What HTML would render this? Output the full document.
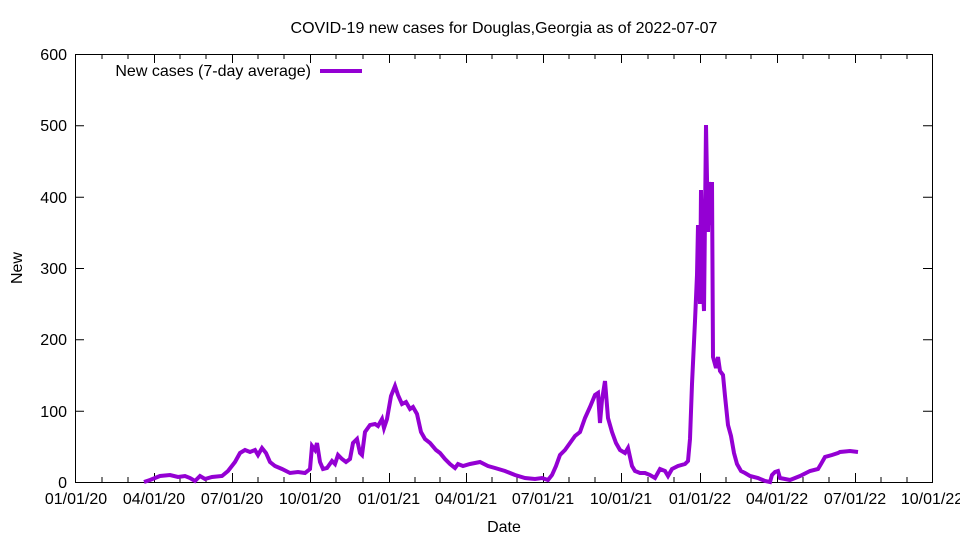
<!DOCTYPE html>
<html><head><meta charset="utf-8"><style>
body{margin:0;background:#fff}
svg text{font-family:"Liberation Sans",sans-serif;font-size:16px;fill:#000}
</style></head><body>
<svg width="960" height="540" xmlns="http://www.w3.org/2000/svg">
<text x="504" y="33" text-anchor="middle">COVID-19 new cases for Douglas,Georgia as of 2022-07-07</text>
<g stroke="#000" stroke-width="1" fill="none">
<rect x="75.5" y="54.5" width="857" height="428"/>
<path d="M75,482.5h9M932,482.5h-9M75,411.2h9M932,411.2h-9M75,339.8h9M932,339.8h-9M75,268.5h9M932,268.5h-9M75,197.2h9M932,197.2h-9M75,125.8h9M932,125.8h-9M75,54.5h9M932,54.5h-9"/>
<path d="M75.5,482v-9M154.5,482v-9M232.5,482v-9M310.5,482v-9M389.5,482v-9M466.5,482v-9M543.5,482v-9M621.5,482v-9M700.5,482v-9M777.5,482v-9M855.5,482v-9M932.5,482v-9
M75.5,54v9M154.5,54v9M232.5,54v9M310.5,54v9M389.5,54v9M466.5,54v9M543.5,54v9M621.5,54v9M700.5,54v9M777.5,54v9M855.5,54v9"/>
<path d="M102,482v-5M128,482v-5M180,482v-5M206,482v-5M258,482v-5M284,482v-5M336,482v-5M363,482v-5M415,482v-5M440,482v-5M492,482v-5M517,482v-5M569,482v-5M595,482v-5M648,482v-5M674,482v-5M726,482v-5M751,482v-5M803,482v-5M829,482v-5M881,482v-5M907,482v-5
M102,54v5M128,54v5M180,54v5M206,54v5M258,54v5M284,54v5M336,54v5M363,54v5M415,54v5M440,54v5M492,54v5M517,54v5M569,54v5M595,54v5M648,54v5M674,54v5M726,54v5M751,54v5M803,54v5M829,54v5M881,54v5M907,54v5"/>
</g>
<g text-anchor="end">
<text x="67" y="488">0</text><text x="67" y="417">100</text><text x="67" y="345">200</text><text x="67" y="274">300</text><text x="67" y="203">400</text><text x="67" y="131">500</text><text x="67" y="60">600</text>
</g>
<g text-anchor="middle">
<text x="76" y="504">01/01/20</text><text x="154" y="504">04/01/20</text><text x="232" y="504">07/01/20</text><text x="310" y="504">10/01/20</text><text x="389" y="504">01/01/21</text><text x="466" y="504">04/01/21</text><text x="543" y="504">07/01/21</text><text x="621" y="504">10/01/21</text><text x="700" y="504">01/01/22</text><text x="777" y="504">04/01/22</text><text x="855" y="504">07/01/22</text><text x="932" y="504">10/01/22</text>
<text x="504" y="532">Date</text>
<text x="22" y="268" transform="rotate(-90 22 268)">New</text>
</g>
<text x="311" y="76" text-anchor="end">New cases (7-day average)</text>
<line x1="320" y1="71" x2="362" y2="71" stroke="#9400d3" stroke-width="4"/>
<polyline fill="none" stroke="#9400d3" stroke-width="4" stroke-linejoin="miter" points="
144,482 150,480 160,476 170,475 178,477 185,476 190,478 195,481 200,476 205,479 212,477 222,476 228,471 235,462 240,453 245,450 250,452 255,450 258,455 262,448 266,453 270,462 275,466 282,469 290,473 298,472 305,473 310,469 312,446 315,450 317,443 320,462 323,469 327,468 332,461 335,464 338,455 342,459 346,462 350,459 353,443 357,439 360,453 362,455 365,432 370,425 375,424 378,426 382,419 384,428 387,419 391,396 395,386 398,395 402,404 406,402 410,409 413,407 417,414 421,432 425,439 430,443 436,450 440,453 445,459 450,464 455,468 458,464 463,466 470,464 480,462 488,466 495,468 505,471 515,475 525,478 535,479 542,478 548,480 552,475 556,466 560,455 565,450 570,443 575,436 580,432 585,418 590,407 595,395 598,393 600,423 602,400 605,381 608,418 612,432 616,443 620,450 625,453 628,448 632,466 635,471 640,473 645,473 650,475 655,478 660,469 665,471 668,476 672,469 678,466 685,464 688,461 690,439 692,384 695,321 697,275 698,225 700,304 701,190 703,289 704,311 706,125 708,232 709,182 711,225 712,182 713,357 716,368 718,357 720,371 723,375 725,396 728,425 731,436 734,453 737,464 741,471 745,473 750,476 758,478 765,481 770,482 772,475 775,472 778,471 780,478 790,480 800,476 810,471 818,469 821,464 825,457 832,455 838,453 840,452 850,451 858,452"/>
</svg>
</body></html>
